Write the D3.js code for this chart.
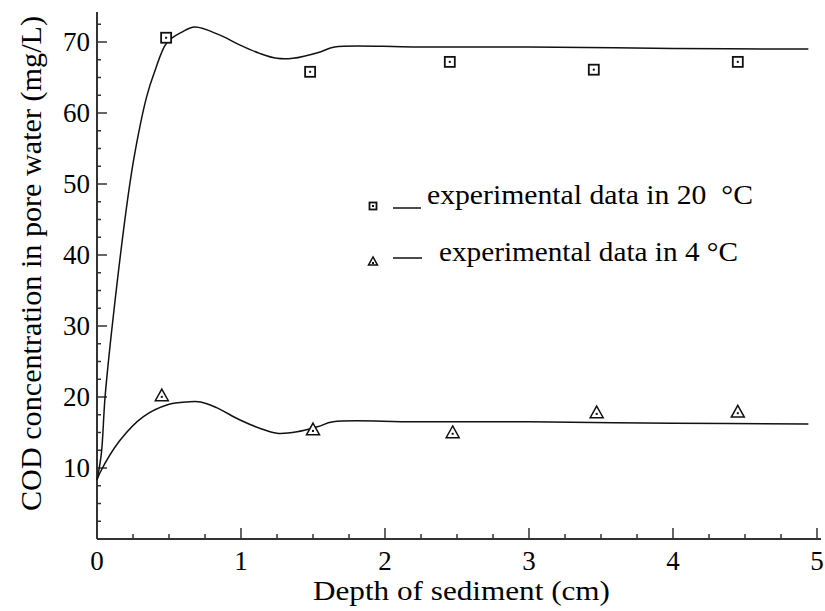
<!DOCTYPE html>
<html>
<head>
<meta charset="utf-8">
<script src="https://cdn.jsdelivr.net/npm/d3@7"></script>
<style>
  body { margin: 0; background: #fff; }
</style>
</head>
<body>
<svg id="chart" width="825" height="611"></svg>
<script>
// measured points, 20 C
var depth20 = [0.48, 1.48, 2.45, 3.45, 4.45];
var cod20 = [70.6, 65.8, 67.2, 66.1, 67.2];
// measured points, 4 C
var depth4 = [0.45, 1.50, 2.47, 3.47, 4.45];
var cod4 = [20.3, 15.5, 15.1, 17.9, 18.0];

// model curves
var curveX20 = [0, 0.03, 0.056, 0.11, 0.215, 0.264, 0.345, 0.40, 0.485, 0.59, 0.68, 0.85, 0.99, 1.13, 1.25, 1.36, 1.55, 1.65, 2.2, 3.0, 4.0, 4.94];
var curveY20 = [8.3, 12, 20, 30.8, 48.2, 54.5, 62.3, 65.8, 69.9, 71.4, 72.1, 71.0, 69.6, 68.4, 67.7, 67.7, 68.6, 69.3, 69.3, 69.3, 69.1, 69.0];
var curveX4 = [0, 0.02, 0.16, 0.32, 0.49, 0.63, 0.72, 0.83, 0.99, 1.13, 1.25, 1.39, 1.53, 1.64, 2.2, 3.0, 4.0, 4.94];
var curveY4 = [8.3, 9.3, 13.9, 17.2, 18.9, 19.3, 19.3, 18.5, 16.8, 15.6, 14.9, 15.1, 15.8, 16.5, 16.5, 16.5, 16.3, 16.2];

var xTicks = [0, 1, 2, 3, 4, 5];
var yTicks = [10, 20, 30, 40, 50, 60, 70];

var serif = "'Liberation Serif'";

var svg = d3.select("#chart");

var x = d3.scaleLinear().domain([0, 5]).range([97, 817]);
var y = d3.scaleLinear().domain([0, 70]).range([539, 42]);

var axisColor = "#333";

//X axis line and ticks (ticks point up into the plot)
svg.append("line")
  .attr("x1", x(0)).attr("x2", 821)
  .attr("y1", y(0)).attr("y2", y(0))
  .attr("stroke", axisColor).attr("stroke-width", 2);

var xMinor = d3.range(0, 5.001, 0.25);
svg.selectAll(".xtick")
  .data(xMinor)
  .enter().append("line")
  .attr("x1", d => x(d)).attr("x2", d => x(d))
  .attr("y1", y(0))
  .attr("y2", d => Math.abs(d - Math.round(d)) < 1e-6 ? y(0) - 11 : y(0) - 5)
  .attr("stroke", axisColor).attr("stroke-width", 1.5);

svg.selectAll(".xlab")
  .data(xTicks)
  .enter().append("text")
  .attr("x", d => x(d))
  .attr("y", 570)
  .attr("text-anchor", "middle")
  .style("font-family", serif)
  .style("font-size", "27px")
  .text(d => d);

//Y axis line and ticks (ticks point right into the plot)
svg.append("line")
  .attr("x1", x(0)).attr("x2", x(0))
  .attr("y1", y(0)).attr("y2", 12)
  .attr("stroke", axisColor).attr("stroke-width", 2);

var yMinor = d3.range(2.5, 72.6, 2.5);
svg.selectAll(".ytick")
  .data(yMinor)
  .enter().append("line")
  .attr("x1", x(0))
  .attr("x2", d => d % 10 === 0 ? x(0) + 10 : x(0) + 4)
  .attr("y1", d => y(d)).attr("y2", d => y(d))
  .attr("stroke", axisColor).attr("stroke-width", 1.5);

svg.selectAll(".ylab")
  .data(yTicks)
  .enter().append("text")
  .attr("x", 90)
  .attr("y", d => y(d) + 9)
  .attr("text-anchor", "end")
  .style("font-family", serif)
  .style("font-size", "27px")
  .text(d => d);

//Axis titles
svg.append("text")
  .attr("x", 313).attr("y", 600)
  .attr("textLength", 297)
  .attr("lengthAdjust", "spacingAndGlyphs")
  .style("font-family", serif)
  .style("font-size", "28px")
  .text("Depth of sediment (cm)");

svg.append("text")
  .attr("transform", "translate(41,511) rotate(-90)")
  .attr("textLength", 495)
  .attr("lengthAdjust", "spacingAndGlyphs")
  .style("font-family", serif)
  .style("font-size", "29px")
  .text("COD concentration in pore water (mg/L)");

//Model curves
var line = d3.line()
  .x(d => x(d[0]))
  .y(d => y(d[1]))
  .curve(d3.curveCatmullRom.alpha(0.5));

svg.append("path")
  .datum(d3.zip(curveX20, curveY20))
  .attr("d", line)
  .attr("fill", "none").attr("stroke", "#111").attr("stroke-width", 1.5);

svg.append("path")
  .datum(d3.zip(curveX4, curveY4))
  .attr("d", line)
  .attr("fill", "none").attr("stroke", "#111").attr("stroke-width", 1.5);

//Square markers with a center dot
function drawSquare(g, cx, cy, s) {
  g.append("rect")
    .attr("x", cx - s / 2).attr("y", cy - s / 2)
    .attr("width", s).attr("height", s)
    .attr("fill", "#fff").attr("stroke", "#111").attr("stroke-width", 1.8);
  g.append("rect")
    .attr("x", cx - 1).attr("y", cy - 1)
    .attr("width", 2).attr("height", 2)
    .attr("fill", "#111");
}

//Triangle markers with a center dot
function drawTriangle(g, cx, cy, s) {
  var h = s * 0.9;
  g.append("path")
    .attr("d", "M" + cx + "," + (cy - h / 2) + "L" + (cx + s / 2) + "," + (cy + h / 2) + "L" + (cx - s / 2) + "," + (cy + h / 2) + "Z")
    .attr("fill", "#fff").attr("stroke", "#111").attr("stroke-width", 1.5);
  g.append("rect")
    .attr("x", cx - 1).attr("y", cy + 1)
    .attr("width", 2).attr("height", 2)
    .attr("fill", "#111");
}

var pts = svg.append("g");
d3.zip(depth20, cod20).forEach(function(d) {
  drawSquare(pts, x(d[0]), y(d[1]), 10);
});
d3.zip(depth4, cod4).forEach(function(d) {
  drawTriangle(pts, x(d[0]), y(d[1]), 13);
});

//Legend
var leg = svg.append("g");
drawSquare(leg, 373, 206, 7);
leg.append("line")
  .attr("x1", 393).attr("x2", 421).attr("y1", 208).attr("y2", 208)
  .attr("stroke", "#111").attr("stroke-width", 1.5);
leg.append("text")
  .attr("x", 427).attr("y", 204)
  .attr("textLength", 326)
  .attr("lengthAdjust", "spacingAndGlyphs")
  .style("font-family", serif)
  .style("font-size", "28px")
  .text("experimental data in 20\u00A0 \u00B0C");

drawTriangle(leg, 373, 261, 9);
leg.append("line")
  .attr("x1", 393).attr("x2", 422).attr("y1", 258).attr("y2", 258)
  .attr("stroke", "#111").attr("stroke-width", 1.5);
leg.append("text")
  .attr("x", 439).attr("y", 261)
  .attr("textLength", 299)
  .attr("lengthAdjust", "spacingAndGlyphs")
  .style("font-family", serif)
  .style("font-size", "28px")
  .text("experimental data in 4 \u00B0C");
</script>
</body>
</html>
